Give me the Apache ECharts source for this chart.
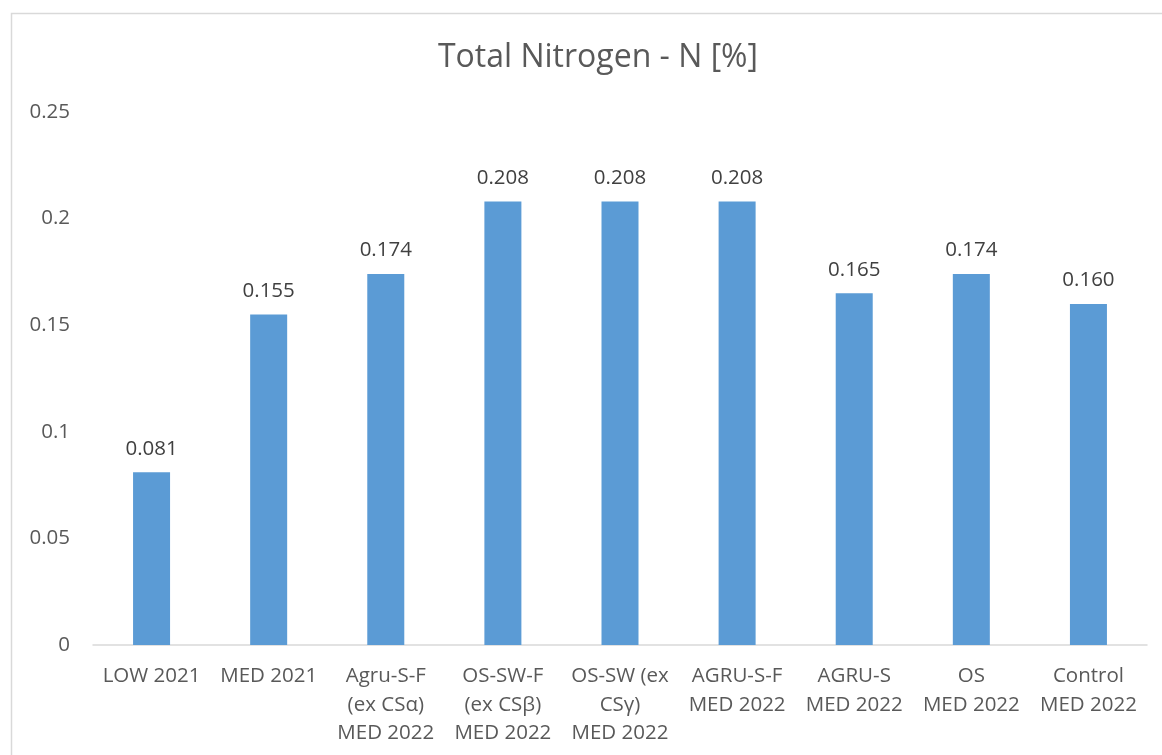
<!DOCTYPE html>
<html>
<head>
<meta charset="utf-8">
<script src="https://cdn.jsdelivr.net/npm/echarts@6/dist/echarts.min.js"></script>
<style>
html,body{margin:0;padding:0;background:#fff;}
#chart{width:1162px;height:755px;}
</style>
</head>
<body>
<div id="chart"></div>
<script>
const titleText = "Total Nitrogen - N [%]";
const categories = [
  "LOW 2021",
  "MED 2021",
  "Agru-S-F\n(ex CSα)\nMED 2022",
  "OS-SW-F\n(ex CSβ)\nMED 2022",
  "OS-SW (ex\nCSγ)\nMED 2022",
  "AGRU-S-F\nMED 2022",
  "AGRU-S\nMED 2022",
  "OS\nMED 2022",
  "Control\nMED 2022"
];
const values = [0.081, 0.155, 0.174, 0.208, 0.208, 0.208, 0.165, 0.174, 0.160];
const yMin = 0, yMax = 0.25, yStep = 0.05;

const font = "'Open Sans', sans-serif";
const chart = echarts.init(document.getElementById('chart'));
chart.setOption({
  animation: false,
  backgroundColor: '#fff',
  title: {
    text: titleText,
    left: 593, top: 37, textAlign: 'center',
    textStyle: {fontFamily: font, fontSize: 32, fontWeight: 'normal', color: '#595959'}
  },
  graphic: [{
    type: 'rect', silent: true, z: -1,
    shape: {x: 11.5, y: 13.5, width: 1200, height: 800},
    style: {fill: 'none', stroke: '#D9D9D9', lineWidth: 1.5}
  }],
  grid: {left: 93, right: 15, top: 112, bottom: 110, containLabel: false},
  xAxis: {
    type: 'category',
    data: categories,
    axisLine: {lineStyle: {color: '#D9D9D9', width: 1.5}},
    axisTick: {show: false},
    axisLabel: {
      interval: 0, margin: 17, fontFamily: font, fontSize: 20.5,
      color: '#595959', lineHeight: 28.5, verticalAlign: 'top'
    }
  },
  yAxis: {
    type: 'value', min: yMin, max: yMax, interval: yStep,
    splitLine: {show: false},
    axisLine: {show: false}, axisTick: {show: false},
    axisLabel: {
      margin: 23, fontFamily: font, fontSize: 20.5, color: '#595959',
      formatter: v => String(parseFloat(v.toFixed(2)))
    }
  },
  series: [{
    type: 'bar',
    data: values,
    barWidth: '31.6%',
    itemStyle: {color: '#5B9BD5'},
    label: {
      show: true, position: 'top', distance: 13,
      fontFamily: font, fontSize: 20.5, color: '#404040',
      formatter: p => p.value.toFixed(3)
    }
  }]
});
</script>
</body>
</html>
